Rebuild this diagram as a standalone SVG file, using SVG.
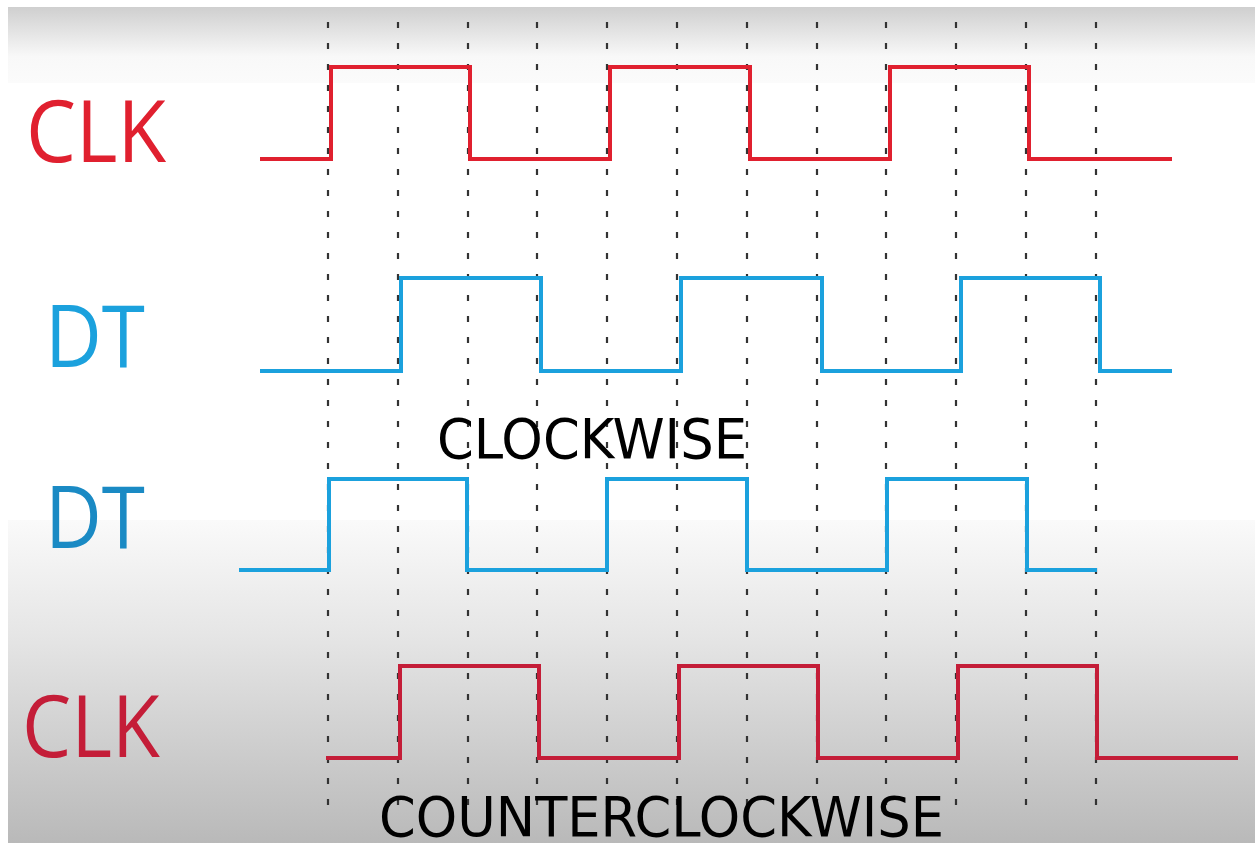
<svg xmlns="http://www.w3.org/2000/svg" width="1255" height="843" viewBox="0 0 1255 843">
  <defs>
    <linearGradient id="topBand" x1="0" y1="0" x2="0" y2="1">
      <stop offset="0" stop-color="#cfcfcf"/>
      <stop offset="0.65" stop-color="#f8f8f8"/>
      <stop offset="1" stop-color="#fbfbfb"/>
    </linearGradient>
    <linearGradient id="bottomBand" x1="0" y1="0" x2="0" y2="1">
      <stop offset="0" stop-color="#fafafa"/>
      <stop offset="0.35" stop-color="#e6e6e6"/>
      <stop offset="1" stop-color="#b9b9b9"/>
    </linearGradient>
  </defs>
  <style>
    .grid { stroke: #333333; stroke-width: 2.2; stroke-dasharray: 6 15; fill: none; }
    .wave { fill: none; stroke-width: 4; stroke-linejoin: miter; stroke-linecap: butt; }
    .clk { stroke: #e0202f; }
    .clk2 { stroke: #c41d38; }
    .dt { stroke: #1ba1dd; }
    .dt2 { stroke: #1ba1dd; }
    .label { font-family: "Open Sans", "Noto Sans", "Liberation Sans", sans-serif; font-size: 86px; }
    .caption { font-family: "DejaVu Sans", "Liberation Sans", sans-serif; font-size: 56px; fill: #000000; }
  </style>

  <!-- background -->
  <rect x="0" y="0" width="1255" height="843" fill="#ffffff"/>
  <rect x="8" y="7" width="1247" height="76" fill="url(#topBand)"/>
  <rect x="8" y="520" width="1247" height="323" fill="url(#bottomBand)"/>

  <!-- dashed time grid -->
  <g id="grid">
    <line class="grid" x1="328" y1="22" x2="328" y2="818"/>
    <line class="grid" x1="398" y1="22" x2="398" y2="818"/>
    <line class="grid" x1="468" y1="22" x2="468" y2="818"/>
    <line class="grid" x1="537" y1="22" x2="537" y2="818"/>
    <line class="grid" x1="607" y1="22" x2="607" y2="818"/>
    <line class="grid" x1="677" y1="22" x2="677" y2="818"/>
    <line class="grid" x1="747" y1="22" x2="747" y2="818"/>
    <line class="grid" x1="817" y1="22" x2="817" y2="818"/>
    <line class="grid" x1="886" y1="22" x2="886" y2="818"/>
    <line class="grid" x1="956" y1="22" x2="956" y2="818"/>
    <line class="grid" x1="1026" y1="22" x2="1026" y2="818"/>
    <line class="grid" x1="1096" y1="22" x2="1096" y2="818"/>
  </g>

  <!-- waveforms -->
  <g id="signals">
    <g id="clk-top">
      <text class="label" x="26" y="162" fill="#e0202f" textLength="140" lengthAdjust="spacingAndGlyphs">CLK</text>
      <polyline class="wave clk" points="260,159 331,159 331,67 470,67 470,159 610,159 610,67 750,67 750,159 890,159 890,67 1029,67 1029,159 1172,159"/>
    </g>
    <g id="dt-top">
      <text class="label" x="45" y="367" fill="#1ba1dd" textLength="100" lengthAdjust="spacingAndGlyphs">DT</text>
      <polyline class="wave dt" points="260,371 401,371 401,278 541,278 541,371 681,371 681,278 822,278 822,371 961,371 961,278 1100,278 1100,371 1172,371"/>
    </g>
    <g id="dt-bottom">
      <text class="label" x="45" y="548" fill="#1a8ac4" textLength="100" lengthAdjust="spacingAndGlyphs" font-size="94">DT</text>
      <polyline class="wave dt2" points="239,570 329,570 329,479 467,479 467,570 607,570 607,479 747,479 747,570 887,570 887,479 1027,479 1027,570 1097,570"/>
    </g>
    <g id="clk-bottom">
      <text class="label" x="22" y="757" fill="#c41d38" textLength="138" lengthAdjust="spacingAndGlyphs">CLK</text>
      <polyline class="wave clk2" points="326,758 400,758 400,666 539,666 539,758 679,758 679,666 818,666 818,758 958,758 958,666 1097,666 1097,758 1238,758"/>
    </g>
  </g>

  <!-- captions -->
  <g id="captions">
    <text class="caption" x="437" y="458" textLength="310" lengthAdjust="spacingAndGlyphs">CLOCKWISE</text>
    <text class="caption" x="379" y="836" textLength="565" lengthAdjust="spacingAndGlyphs">COUNTERCLOCKWISE</text>
  </g>
</svg>
